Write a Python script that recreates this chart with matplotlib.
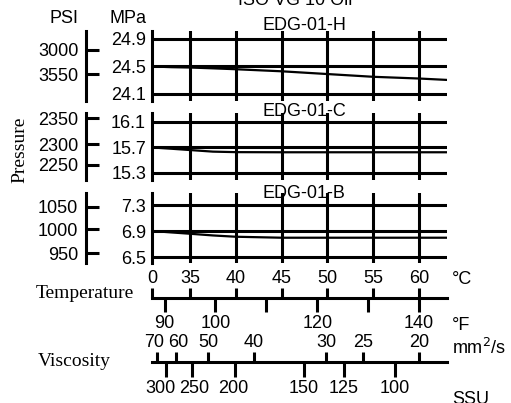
import matplotlib
matplotlib.use('Agg')
import matplotlib.pyplot as plt
from matplotlib.transforms import ScaledTranslation

plt.rcParams['font.family'] = ['Liberation Sans', 'DejaVu Sans']
plt.rcParams['font.size'] = 13

# ---- data ----
panel_names = ['EDG-01-H', 'EDG-01-C', 'EDG-01-B']
mpa_ticks = [[24.9, 24.5, 24.1], [16.1, 15.7, 15.3], [7.3, 6.9, 6.5]]
psi_labels = [['3000', '3550'], ['2350', '2300', '2250'], ['1050', '1000', '950']]
psi_at_mpa = [[24.74, 24.39], [16.16, 15.75, 15.43], [7.27, 6.93, 6.56]]

curve_temp = [30.9, 33, 35, 37.5, 40, 45, 50, 55, 60, 63]
curve_h = [24.50, 24.49, 24.485, 24.473, 24.46, 24.43, 24.39, 24.35, 24.325, 24.305]
curve_c = [15.70, 15.68, 15.66, 15.635, 15.627, 15.625, 15.625, 15.625, 15.625, 15.625]
curve_b = [6.90, 6.878, 6.858, 6.832, 6.812, 6.797, 6.797, 6.797, 6.797, 6.797]
curves = [curve_h, curve_c, curve_b]

temp_c = [35, 40, 45, 50, 55, 60]
temp_f = [90, 100, 110, 120, 130, 140]
temp_f_labels = ['90', '100', '', '120', '', '140']

visc_mm2 = [70, 60, 50, 40, 30, 25, 20]
visc_at_c = [31.40, 33.47, 36.97, 41.99, 49.85, 53.89, 60.0]
ssu = [300, 250, 200, 150, 125, 100]
ssu_at_c = [32.38, 35.22, 39.91, 47.45, 51.81, 57.38]

# ---- layout ----
W, H = 511, 403
X0, X1 = 30.85, 63.06
LW = 2.2


def fx(px):
    return px / W


def fy(py):
    return 1 - py / H


def nudge(labels, shifts):
    # shift some crowded tick labels sideways (pixels)
    for lab, dx in zip(labels, shifts):
        if dx:
            lab.set_transform(lab.get_transform() +
                              ScaledTranslation(dx / 100, 0, fig.dpi_scale_trans))


fig = plt.figure(figsize=(W / 100, H / 100), dpi=100)

panel_px = [(31, 101), (113, 180), (193, 263)]
panel_ylim = [(23.998, 25.016), (15.19, 16.241), (6.408, 7.485)]
title_y = [26, 111, 194]

for i in range(3):
    top, bot = panel_px[i]
    ax = fig.add_axes([fx(152), fy(bot), fx(447) - fx(152), (bot - top) / H])
    ax.set_xlim(X0, X1)
    ax.set_ylim(*panel_ylim[i])
    for s in ['top', 'right', 'bottom']:
        ax.spines[s].set_visible(False)
    ax.spines['left'].set_linewidth(LW)
    for t in temp_c:
        ax.axvline(t, color='black', lw=LW)
    for m in mpa_ticks[i]:
        ax.axhline(m, color='black', lw=LW)
    ax.plot(curve_temp, curves[i], color='black', lw=1.6)
    ax.set_xticks([])
    ax.set_yticks(mpa_ticks[i])
    ax.set_yticklabels([str(m) for m in mpa_ticks[i]])
    ax.tick_params(axis='y', length=0, pad=4.3)

    # PSI scale
    pax = fig.add_axes([fx(86), fy(bot), 0.001, (bot - top) / H])
    pax.set_ylim(*panel_ylim[i])
    for s in ['top', 'right', 'bottom']:
        pax.spines[s].set_visible(False)
    pax.spines['left'].set_linewidth(LW)
    pax.set_xticks([])
    pax.set_yticks(psi_at_mpa[i])
    pax.set_yticklabels(psi_labels[i])
    pax.tick_params(axis='y', direction='in', length=9.4, width=LW, pad=5.5)
    pax.patch.set_visible(False)

    fig.text(fx(304), fy(title_y[i]), panel_names[i], ha='center', va='center')

fig.text(fx(64), fy(18.5), 'PSI', ha='center', va='center')
fig.text(fx(128), fy(18.5), 'MPa', ha='center', va='center')
fig.text(fx(295), fy(5), 'ISO VG 10 Oil', ha='center', va='baseline')
fig.text(fx(20), fy(150), 'Pressure', rotation=90, ha='center', va='center',
         family='Liberation Serif', fontsize=14)

# temperature scale
tax = fig.add_axes([fx(152), fy(298), fx(447) - fx(152), 0.0001])
tax.set_xlim(X0, X1)
for s in ['top', 'right', 'left']:
    tax.spines[s].set_visible(False)
tax.spines['bottom'].set_linewidth(LW)
tax.set_yticks([])
tax.set_xticks([(f - 32) * 5 / 9 for f in temp_f])
tax.set_xticklabels(temp_f_labels)
tax.tick_params(axis='x', direction='out', length=10, width=LW, pad=2)
tsec = tax.secondary_xaxis('top')
tsec.spines['top'].set_visible(False)
tsec.set_xticks([X0] + temp_c)
tsec.set_xticklabels(['0'] + [str(t) for t in temp_c])
tsec.tick_params(axis='x', direction='out', length=7.2, width=LW, pad=0.5)

# viscosity scale
vax = fig.add_axes([fx(152), fy(362), fx(447) - fx(152), 0.0001])
vax.set_xlim(X0, X1)
for s in ['top', 'right', 'left']:
    vax.spines[s].set_visible(False)
vax.spines['bottom'].set_linewidth(LW)
vax.set_yticks([])
vax.set_xticks(ssu_at_c)
ssu_labels = vax.set_xticklabels([str(s) for s in ssu])
vax.tick_params(axis='x', direction='out', length=10.5, width=LW, pad=2.5)
nudge(ssu_labels, [-6, 2, -2, 0, 0, 0])
vsec = vax.secondary_xaxis('top')
vsec.spines['top'].set_visible(False)
vsec.set_xticks(visc_at_c)
visc_labels = vsec.set_xticklabels([str(v) for v in visc_mm2])
vsec.tick_params(axis='x', direction='out', length=7.2, width=LW, pad=0.5)
nudge(visc_labels, [-3, 2, 0, 0, 0, 0, 0])

fig.text(fx(85), fy(293), 'Temperature', ha='center', va='center',
         family='Liberation Serif', fontsize=14)
fig.text(fx(74), fy(362), 'Viscosity', ha='center', va='center',
         family='Liberation Serif', fontsize=14)
fig.text(fx(452), fy(279), '°C', ha='left', va='center')
fig.text(fx(452), fy(325), '°F', ha='left', va='center')
fig.text(fx(452), fy(348), 'mm$^2$/s', ha='left', va='center')
fig.text(fx(452), fy(399), 'SSU', ha='left', va='center')

fig.savefig('out.png', dpi=100)
